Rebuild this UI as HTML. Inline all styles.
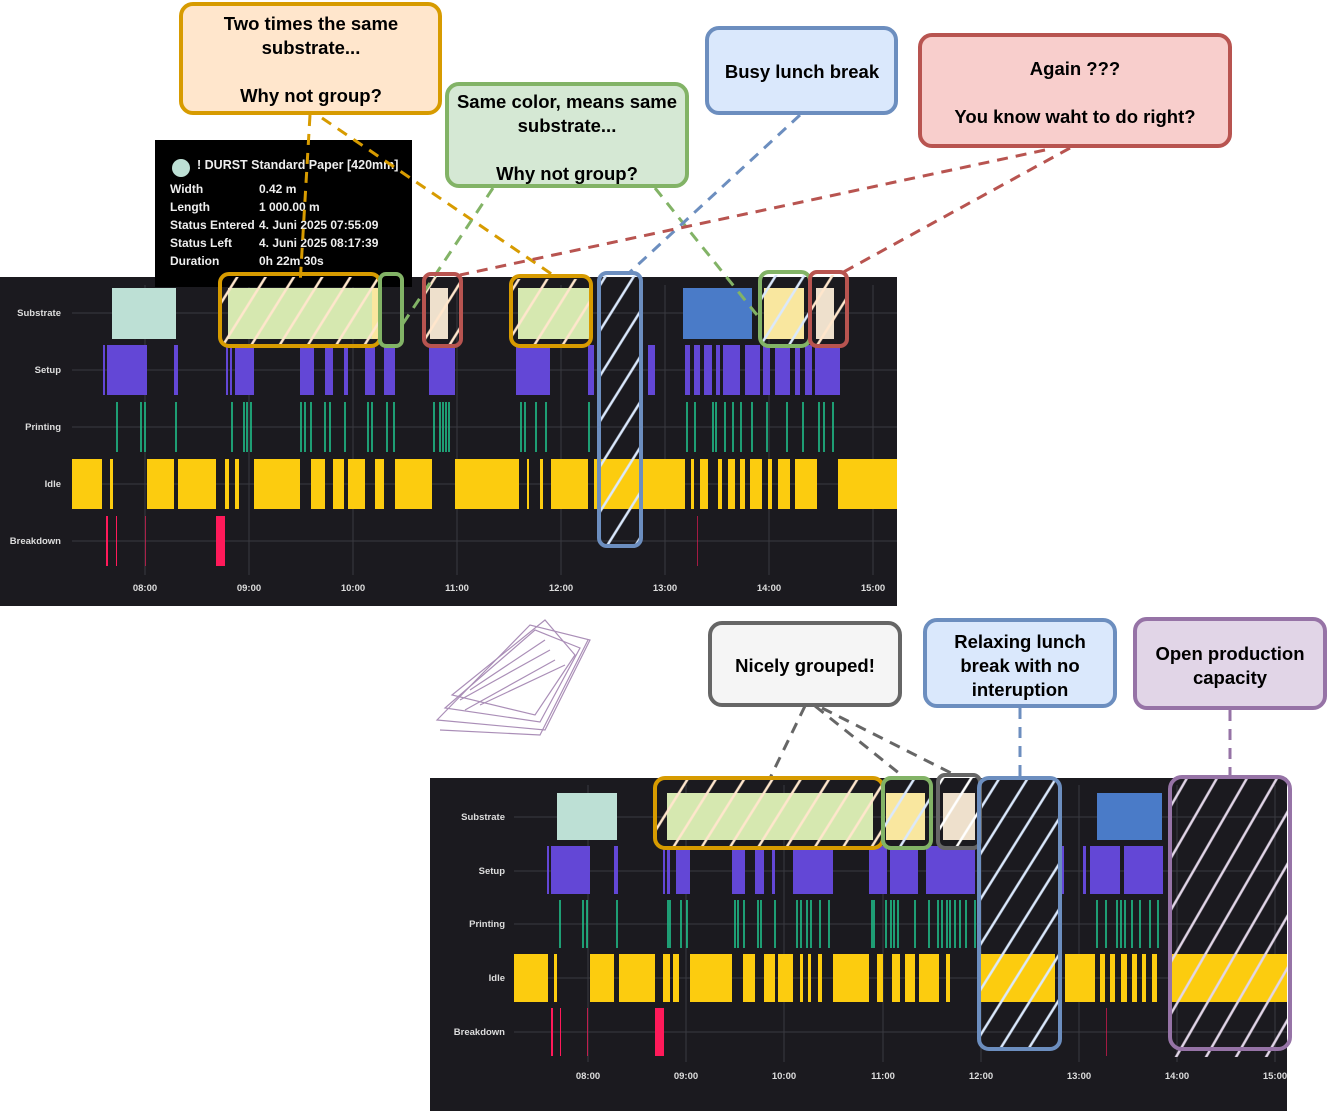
<!DOCTYPE html>
<html><head><meta charset="utf-8"><style>
html,body{margin:0;padding:0;background:#fff;width:1328px;height:1111px;overflow:hidden}
svg{display:block}
.cl{font-family:"Liberation Sans",sans-serif;font-weight:bold;font-size:18.5px;fill:#000;text-anchor:middle}
.ax{font-family:"Liberation Sans",sans-serif;font-size:9.5px;font-weight:bold;fill:#ddd;text-anchor:end}
.tm{font-family:"Liberation Sans",sans-serif;font-size:9.5px;font-weight:bold;fill:#ddd;text-anchor:middle}
.tt{font-family:"Liberation Sans",sans-serif;font-size:12px;font-weight:bold;fill:#eee}
</style></head><body>
<svg width="1328" height="1111" viewBox="0 0 1328 1111" xmlns="http://www.w3.org/2000/svg">
<defs>
<pattern id="hw" width="24" height="24" patternUnits="userSpaceOnUse" patternTransform="rotate(32)"><line x1="12" y1="0" x2="12" y2="24" stroke="#fff" stroke-width="2.5"/></pattern>
<pattern id="hp" width="24" height="24" patternUnits="userSpaceOnUse" patternTransform="rotate(32)"><line x1="12" y1="0" x2="12" y2="24" stroke="#ffe6cc" stroke-width="2.5"/></pattern>
<pattern id="hb" width="24" height="24" patternUnits="userSpaceOnUse" patternTransform="rotate(32)"><line x1="12" y1="0" x2="12" y2="24" stroke="#dae8fc" stroke-width="2.5"/></pattern>
<pattern id="hv" width="26" height="26" patternUnits="userSpaceOnUse" patternTransform="rotate(30)"><line x1="13" y1="0" x2="13" y2="26" stroke="#e1d5e7" stroke-width="2.5"/></pattern>
</defs>

<rect x="0" y="277" width="897" height="329" fill="#1b1a1f"/>
<g stroke="#3a3a40" stroke-width="1">
<line x1="72" y1="313" x2="897" y2="313"/><line x1="72" y1="370" x2="897" y2="370"/><line x1="72" y1="427" x2="897" y2="427"/><line x1="72" y1="484" x2="897" y2="484"/><line x1="72" y1="541" x2="897" y2="541"/>
<line x1="145" y1="285" x2="145" y2="575"/><line x1="249" y1="285" x2="249" y2="575"/><line x1="353" y1="285" x2="353" y2="575"/><line x1="457" y1="285" x2="457" y2="575"/><line x1="561" y1="285" x2="561" y2="575"/><line x1="665" y1="285" x2="665" y2="575"/><line x1="769" y1="285" x2="769" y2="575"/><line x1="873" y1="285" x2="873" y2="575"/>
</g>
<text class="ax" x="61" y="316">Substrate</text><text class="ax" x="61" y="373">Setup</text><text class="ax" x="61" y="430">Printing</text><text class="ax" x="61" y="487">Idle</text><text class="ax" x="61" y="544">Breakdown</text>
<g class="tm"><text x="145" y="591">08:00</text><text x="249" y="591">09:00</text><text x="353" y="591">10:00</text><text x="457" y="591">11:00</text><text x="561" y="591">12:00</text><text x="665" y="591">13:00</text><text x="769" y="591">14:00</text><text x="873" y="591">15:00</text></g>
<rect x="112" y="288" width="64" height="51" fill="#bde0d5"/>
<rect x="228" y="288" width="144" height="51" fill="#d6e8b0"/>
<rect x="372" y="288" width="8" height="51" fill="#f9e79f"/>
<rect x="430" y="288" width="18" height="51" fill="#eee0cc"/>
<rect x="518" y="288" width="72" height="51" fill="#d6e8b0"/>
<rect x="683" y="288" width="69" height="51" fill="#4a7bc8"/>
<rect x="764" y="288" width="40" height="51" fill="#f9e79f"/>
<rect x="816" y="288" width="18" height="51" fill="#eee0cc"/>
<g fill="#6347d6">
<rect x="103" y="345" width="2" height="50"/><rect x="107" y="345" width="40" height="50"/><rect x="174" y="345" width="4" height="50"/>
<rect x="226" y="345" width="2" height="50"/><rect x="230" y="345" width="2" height="50"/><rect x="235" y="345" width="19" height="50"/>
<rect x="300" y="345" width="14" height="50"/><rect x="325" y="345" width="8" height="50"/><rect x="344" y="345" width="4" height="50"/><rect x="365" y="345" width="10" height="50"/><rect x="384" y="345" width="11" height="50"/>
<rect x="429" y="345" width="26" height="50"/><rect x="516" y="345" width="34" height="50"/><rect x="588" y="345" width="6" height="50"/><rect x="648" y="345" width="7" height="50"/>
<rect x="685" y="345" width="5" height="50"/><rect x="694" y="345" width="6" height="50"/><rect x="704" y="345" width="8" height="50"/><rect x="716" y="345" width="4" height="50"/><rect x="723" y="345" width="17" height="50"/><rect x="745" y="345" width="15" height="50"/><rect x="763" y="345" width="7" height="50"/><rect x="775" y="345" width="15" height="50"/><rect x="795" y="345" width="5" height="50"/><rect x="805" y="345" width="7" height="50"/><rect x="815" y="345" width="25" height="50"/>
</g>
<g stroke="#1fc990" stroke-width="1.5">
<path d="M117 402V452M141 402V452M145 402V452M176 402V452M232 402V452M244 402V452M247 402V452M251 402V452M301 402V452M305 402V452M311 402V452M325 402V452M330 402V452M345 402V452M368 402V452M372 402V452M387 402V452M394 402V452M434 402V452M440 402V452M443 402V452M446 402V452M449 402V452M521 402V452M525 402V452M536 402V452M546 402V452M589 402V452M687 402V452M695 402V452M713 402V452M716 402V452M725 402V452M733 402V452M741 402V452M752 402V452M767 402V452M787 402V452M803 402V452M819 402V452M824 402V452M833 402V452"/>
</g>
<g fill="#fccc0f">
<rect x="72" y="459" width="30" height="50"/><rect x="110" y="459" width="3" height="50"/><rect x="147" y="459" width="27" height="50"/><rect x="178" y="459" width="38" height="50"/><rect x="225" y="459" width="4" height="50"/><rect x="235" y="459" width="4" height="50"/><rect x="254" y="459" width="46" height="50"/><rect x="311" y="459" width="14" height="50"/><rect x="333" y="459" width="11" height="50"/><rect x="348" y="459" width="17" height="50"/><rect x="375" y="459" width="9" height="50"/><rect x="395" y="459" width="37" height="50"/><rect x="455" y="459" width="64" height="50"/><rect x="527" y="459" width="2" height="50"/><rect x="540" y="459" width="3" height="50"/><rect x="551" y="459" width="37" height="50"/><rect x="594" y="459" width="91" height="50"/><rect x="691" y="459" width="3" height="50"/><rect x="700" y="459" width="8" height="50"/><rect x="718" y="459" width="4" height="50"/><rect x="728" y="459" width="7" height="50"/><rect x="740" y="459" width="5" height="50"/><rect x="750" y="459" width="12" height="50"/><rect x="768" y="459" width="4" height="50"/><rect x="778" y="459" width="12" height="50"/><rect x="795" y="459" width="22" height="50"/><rect x="838" y="459" width="59" height="50"/>
</g>
<g fill="#ff1a5a"><rect x="106" y="516" width="2" height="50"/><rect x="116" y="516" width="1" height="50"/><rect x="145" y="516" width="1" height="50" opacity=".6"/><rect x="216" y="516" width="9" height="50"/><rect x="697" y="516" width="1" height="50" opacity=".6"/></g>

<rect x="155" y="140" width="257" height="147" fill="#000"/>
<circle cx="181" cy="168" r="9" fill="#bde0d5"/>
<text class="tt" x="197" y="169" style="font-size:12.5px">! DURST Standard Paper [420mm]</text>
<g class="tt"><text x="170" y="193">Width</text><text x="259" y="193">0.42 m</text><text x="170" y="211">Length</text><text x="259" y="211">1 000.00 m</text><text x="170" y="229">Status Entered</text><text x="259" y="229">4. Juni 2025 07:55:09</text><text x="170" y="247">Status Left</text><text x="259" y="247">4. Juni 2025 08:17:39</text><text x="170" y="265">Duration</text><text x="259" y="265">0h 22m 30s</text></g>

<rect x="222" y="277" width="156" height="67" fill="url(#hp)"/>
<rect x="426" y="277" width="33" height="67" fill="url(#hp)"/>
<rect x="513" y="279" width="76" height="65" fill="url(#hp)"/>
<rect x="601" y="276" width="38" height="268" fill="url(#hb)"/>
<rect x="762" y="275" width="46" height="69" fill="url(#hb)"/>
<rect x="812" y="275" width="33" height="69" fill="url(#hp)"/>

<g fill="none" stroke-width="3" stroke-dasharray="11 8">
<path d="M310 115L300 285" stroke="#d79b00"/><path d="M322 118L553 275" stroke="#d79b00"/>
<path d="M493 188L400 328" stroke="#82b366"/><path d="M655 188L757 315" stroke="#82b366"/>
<path d="M800 115L630 272" stroke="#6c8ebf"/>
<path d="M1045 150L460 275" stroke="#b85450"/><path d="M1070 148L838 275" stroke="#b85450"/>
<path d="M805 706L770 778" stroke="#666"/><path d="M815 706L905 778" stroke="#666"/><path d="M822 708L957 776" stroke="#666"/>
<path d="M1020 708V778" stroke="#6c8ebf"/><path d="M1230 710V778" stroke="#9673a6"/>
</g>

<g fill="none" stroke-width="4">
<rect x="220" y="274" width="160" height="72" rx="9" stroke="#d79b00"/>
<rect x="380" y="274" width="22" height="72" rx="6" stroke="#82b366"/>
<rect x="424" y="274" width="37" height="72" rx="7" stroke="#b85450"/>
<rect x="511" y="276" width="80" height="70" rx="9" stroke="#d79b00"/>
<rect x="599" y="273" width="42" height="273" rx="8" stroke="#6c8ebf"/>
<rect x="760" y="272" width="50" height="74" rx="9" stroke="#82b366"/>
<rect x="810" y="272" width="37" height="74" rx="7" stroke="#b85450"/>
</g>

<rect x="181" y="4" width="259" height="109" rx="12" fill="#ffe6cc" stroke="#d79b00" stroke-width="4"/>
<text class="cl" x="311" y="30">Two times the same</text><text class="cl" x="311" y="54">substrate...</text><text class="cl" x="311" y="102">Why not group?</text>
<rect x="447" y="84" width="240" height="102" rx="12" fill="#d5e8d4" stroke="#82b366" stroke-width="4"/>
<text class="cl" x="567" y="108">Same color, means same</text><text class="cl" x="567" y="132">substrate...</text><text class="cl" x="567" y="180">Why not group?</text>
<rect x="707" y="28" width="189" height="85" rx="12" fill="#dae8fc" stroke="#6c8ebf" stroke-width="4"/>
<text class="cl" x="802" y="78">Busy lunch break</text>
<rect x="920" y="35" width="310" height="111" rx="12" fill="#f8cecc" stroke="#b85450" stroke-width="4"/>
<text class="cl" x="1075" y="75">Again ???</text><text class="cl" x="1075" y="123">You know waht to do right?</text>

<g fill="none" stroke="#9673a6" stroke-width="1.2" opacity=".8">
<path d="M437 720L530 625L590 640L545 730Z"/><path d="M445 708L535 630L580 648L540 722Z"/><path d="M452 695L545 620L575 655L535 715Z"/><path d="M440 730L540 735L588 640"/>
<path d="M460 700L550 650M465 710L555 660M470 690L545 640M480 705L565 665"/>
</g>

<rect x="710" y="623" width="190" height="82" rx="12" fill="#f5f5f5" stroke="#666" stroke-width="4"/>
<text class="cl" x="805" y="672">Nicely grouped!</text>
<rect x="925" y="620" width="190" height="86" rx="12" fill="#dae8fc" stroke="#6c8ebf" stroke-width="4"/>
<text class="cl" x="1020" y="648">Relaxing lunch</text><text class="cl" x="1020" y="672">break with no</text><text class="cl" x="1020" y="696">interuption</text>
<rect x="1135" y="619" width="190" height="89" rx="12" fill="#e1d5e7" stroke="#9673a6" stroke-width="4"/>
<text class="cl" x="1230" y="660">Open production</text><text class="cl" x="1230" y="684">capacity</text>

<rect x="430" y="778" width="857" height="333" fill="#1b1a1f"/>
<g stroke="#3a3a40" stroke-width="1">
<line x1="514" y1="817" x2="1287" y2="817"/><line x1="514" y1="871" x2="1287" y2="871"/><line x1="514" y1="924" x2="1287" y2="924"/><line x1="514" y1="978" x2="1287" y2="978"/><line x1="514" y1="1032" x2="1287" y2="1032"/>
<line x1="588" y1="785" x2="588" y2="1062"/><line x1="686" y1="785" x2="686" y2="1062"/><line x1="784" y1="785" x2="784" y2="1062"/><line x1="883" y1="785" x2="883" y2="1062"/><line x1="981" y1="785" x2="981" y2="1062"/><line x1="1079" y1="785" x2="1079" y2="1062"/><line x1="1177" y1="785" x2="1177" y2="1062"/><line x1="1275" y1="785" x2="1275" y2="1062"/>
</g>
<text class="ax" x="505" y="820">Substrate</text><text class="ax" x="505" y="874">Setup</text><text class="ax" x="505" y="927">Printing</text><text class="ax" x="505" y="981">Idle</text><text class="ax" x="505" y="1035">Breakdown</text>
<g class="tm"><text x="588" y="1079">08:00</text><text x="686" y="1079">09:00</text><text x="784" y="1079">10:00</text><text x="883" y="1079">11:00</text><text x="981" y="1079">12:00</text><text x="1079" y="1079">13:00</text><text x="1177" y="1079">14:00</text><text x="1275" y="1079">15:00</text></g>
<rect x="557" y="793" width="60" height="47" fill="#bde0d5"/>
<rect x="667" y="793" width="206" height="47" fill="#d6e8b0"/>
<rect x="886" y="793" width="39" height="47" fill="#f9e79f"/>
<rect x="943" y="793" width="32" height="47" fill="#eee0cc"/>
<rect x="1097" y="793" width="65" height="47" fill="#4a7bc8"/>
<g fill="#6347d6">
<rect x="547" y="846" width="2" height="48"/><rect x="551" y="846" width="39" height="48"/><rect x="614" y="846" width="4" height="48"/>
<rect x="663" y="846" width="2" height="48"/><rect x="667" y="846" width="3" height="48"/><rect x="676" y="846" width="14" height="48"/>
<rect x="732" y="846" width="13" height="48"/><rect x="755" y="846" width="9" height="48"/><rect x="772" y="846" width="3" height="48"/><rect x="793" y="846" width="40" height="48"/>
<rect x="869" y="846" width="18" height="48"/><rect x="890" y="846" width="28" height="48"/><rect x="926" y="846" width="49" height="48"/>
<rect x="1060" y="846" width="4" height="48"/><rect x="1083" y="846" width="3" height="48"/><rect x="1090" y="846" width="30" height="48"/><rect x="1124" y="846" width="39" height="48"/>
</g>
<g stroke="#1fc990" stroke-width="1.5">
<path d="M560 900V948M583 900V948M587 900V948M617 900V948M668 900V948M670 900V948M681 900V948M687 900V948M735 900V948M738 900V948M744 900V948M758 900V948M761 900V948M775 900V948M797 900V948M801 900V948M807 900V948M811 900V948M820 900V948M829 900V948M872 900V948M874 900V948M886 900V948M891 900V948M894 900V948M898 900V948M915 900V948M929 900V948M938 900V948M942 900V948M947 900V948M950 900V948M955 900V948M960 900V948M966 900V948M975 900V948M1097 900V948M1106 900V948M1117 900V948M1121 900V948M1125 900V948M1132 900V948M1140 900V948M1150 900V948M1158 900V948"/>
</g>
<g fill="#fccc0f">
<rect x="514" y="954" width="34" height="48"/><rect x="554" y="954" width="3" height="48"/><rect x="590" y="954" width="24" height="48"/><rect x="619" y="954" width="36" height="48"/><rect x="663" y="954" width="7" height="48"/><rect x="673" y="954" width="6" height="48"/><rect x="690" y="954" width="42" height="48"/><rect x="743" y="954" width="12" height="48"/><rect x="764" y="954" width="11" height="48"/><rect x="778" y="954" width="15" height="48"/><rect x="800" y="954" width="3" height="48"/><rect x="808" y="954" width="3" height="48"/><rect x="818" y="954" width="4" height="48"/><rect x="833" y="954" width="36" height="48"/><rect x="877" y="954" width="6" height="48"/><rect x="892" y="954" width="8" height="48"/><rect x="905" y="954" width="10" height="48"/><rect x="919" y="954" width="20" height="48"/><rect x="946" y="954" width="4" height="48"/><rect x="980" y="954" width="75" height="48"/><rect x="1065" y="954" width="30" height="48"/><rect x="1100" y="954" width="5" height="48"/><rect x="1110" y="954" width="5" height="48"/><rect x="1121" y="954" width="6" height="48"/><rect x="1132" y="954" width="5" height="48"/><rect x="1142" y="954" width="4" height="48"/><rect x="1152" y="954" width="5" height="48"/><rect x="1169" y="954" width="118" height="48"/>
</g>
<g fill="#ff1a5a"><rect x="551" y="1008" width="2" height="48"/><rect x="560" y="1008" width="1" height="48"/><rect x="587" y="1008" width="1" height="48" opacity=".7"/><rect x="655" y="1008" width="9" height="48"/><rect x="1106" y="1008" width="1" height="48" opacity=".6"/></g>

<rect x="657" y="780" width="224" height="66" fill="url(#hp)"/>
<rect x="885" y="780" width="44" height="66" fill="url(#hb)"/>
<rect x="940" y="777" width="38" height="69" fill="url(#hw)"/>
<rect x="981" y="780" width="77" height="267" fill="url(#hb)"/>
<rect x="1172" y="779" width="125" height="278" fill="url(#hv)"/>
<rect x="1287" y="779" width="41" height="300" fill="#fff"/>
<g fill="none" stroke-width="4">
<rect x="655" y="778" width="228" height="70" rx="10" stroke="#d79b00"/>
<rect x="883" y="778" width="48" height="70" rx="8" stroke="#82b366"/>
<rect x="938" y="775" width="42" height="73" rx="7" stroke="#666"/>
<rect x="979" y="778" width="81" height="271" rx="10" stroke="#6c8ebf"/>
<rect x="1170" y="777" width="120" height="272" rx="12" stroke="#9673a6"/>
</g>
</svg>
</body></html>
